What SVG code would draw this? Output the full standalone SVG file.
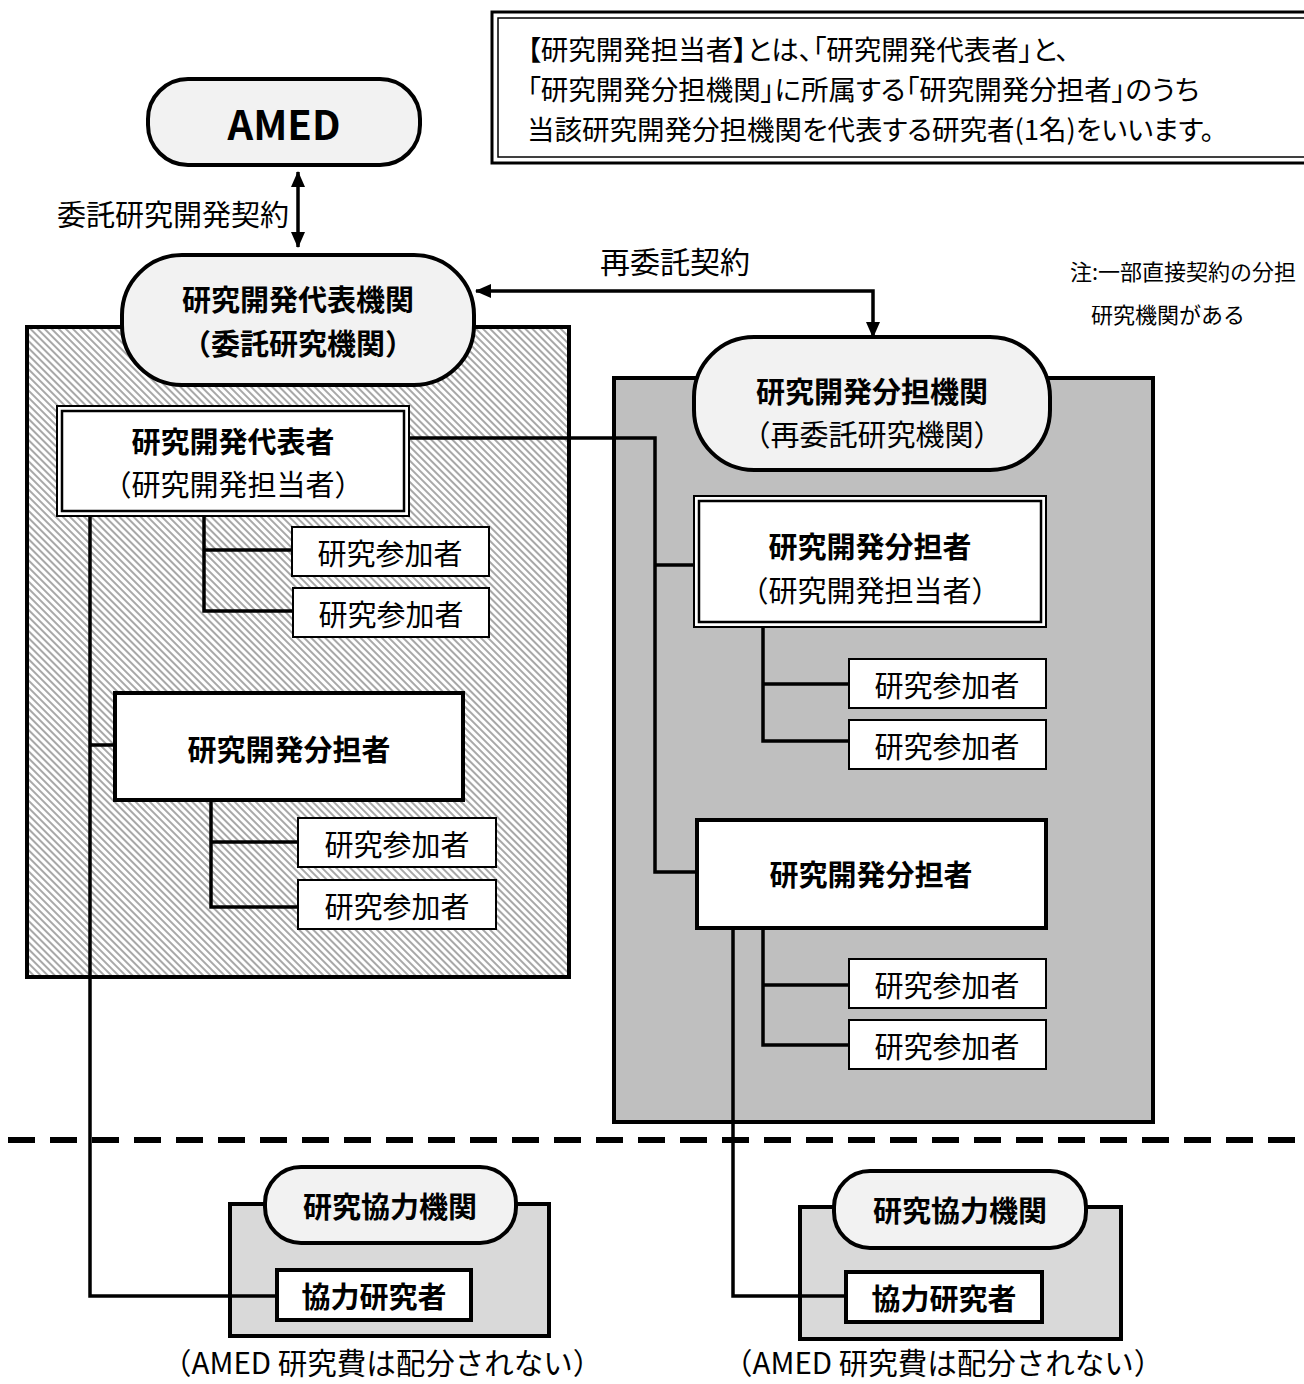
<svg xmlns="http://www.w3.org/2000/svg" width="1304" height="1384" viewBox="0 0 1304 1384">
<defs>
<style>
text{font-family:"Noto Sans CJK JP","Noto Sans",sans-serif;fill:#000;}
.t{font-size:29px;text-anchor:middle;dominant-baseline:central;}
.b{font-weight:700;}
.pill{fill:#f2f2f2;stroke:#000;stroke-width:4;}
.box{fill:#fff;stroke:#000;stroke-width:4;}
.pbox{fill:#fff;stroke:#000;stroke-width:2;}
.dbo{fill:#fff;stroke:#000;stroke-width:2;}
.dbi{fill:none;stroke:#000;stroke-width:2.5;}
.ln{fill:none;stroke:#000;stroke-width:3.5;}
.note{font-size:27.5px;font-feature-settings:"palt";dominant-baseline:central;}
.cap{font-size:29.5px;dominant-baseline:central;}
</style>
<pattern id="hatch" width="5" height="5" patternUnits="userSpaceOnUse" patternTransform="rotate(45)">
<rect width="5" height="5" fill="#ffffff"/>
<rect width="5" height="2" fill="#a8a8a8"/>
</pattern>
<marker id="ah" viewBox="0 0 16 14" refX="15" refY="7" markerWidth="16" markerHeight="14" markerUnits="userSpaceOnUse" orient="auto-start-reverse">
<path d="M0,0 L16,7 L0,14 Z" fill="#000"/>
</marker>
</defs>

<!-- top note -->
<g id="note-box">
<rect x="492" y="12" width="830" height="151" fill="#fff" stroke="#000" stroke-width="3"/>
<rect x="498" y="18" width="830" height="139" fill="none" stroke="#000" stroke-width="1.5"/>
<text class="note" x="527" y="48">【研究開発担当者】とは、「研究開発代表者」と、</text>
<text class="note" x="527" y="88">「研究開発分担機関」に所属する「研究開発分担者」のうち</text>
<text class="note" x="527" y="128">当該研究開発分担機関を代表する研究者(1名)をいいます。</text>
</g>

<!-- containers -->
<g id="left-org">
<rect x="27" y="327" width="542" height="650" fill="url(#hatch)" stroke="#000" stroke-width="4"/>
</g>
<g id="right-org">
<rect x="614" y="378" width="539" height="744" fill="#bfbfbf" stroke="#000" stroke-width="4"/>
</g>
<g id="coop-left">
<rect x="230" y="1204" width="319" height="132" fill="#d9d9d9" stroke="#000" stroke-width="4"/>
</g>
<g id="coop-right">
<rect x="800" y="1207" width="321" height="132" fill="#d9d9d9" stroke="#000" stroke-width="4"/>
</g>

<!-- dashed separator -->
<line x1="8" y1="1140" x2="1304" y2="1140" stroke="#000" stroke-width="6" stroke-dasharray="27 15"/>

<!-- connectors -->
<g id="connectors">
<line class="ln" x1="298" y1="172" x2="298" y2="247" marker-start="url(#ah)" marker-end="url(#ah)" stroke-width="3"/>
<path class="ln" d="M873,337 V291 H476" marker-start="url(#ah)" marker-end="url(#ah)" stroke-width="3"/>
<path class="ln" d="M409,438 H655 V872 H697"/>
<path class="ln" d="M655,565 H694"/>
<path class="ln" d="M204,516 V611 H293 M204,550 H292"/>
<path class="ln" d="M211,800 V907 H298 M211,842 H298"/>
<path class="ln" d="M90,516 V1296 H277 M90,745 H115" stroke-width="3"/>
<path class="ln" d="M763,627 V741 H849 M763,684 H849"/>
<path class="ln" d="M763,928 V1045 H849 M763,985 H849"/>
<path class="ln" d="M733,930 V1296 H846" stroke-width="3"/>
</g>

<!-- labels -->
<text class="t" x="289" y="213" style="text-anchor:end">委託研究開発契約</text>
<text class="t" x="675" y="260" style="font-size:30px">再委託契約</text>
<text x="1070" y="270" style="font-size:22px;dominant-baseline:central">注:一部直接契約の分担</text>
<text x="1168" y="313" style="font-size:22px;text-anchor:middle;dominant-baseline:central">研究機関がある</text>

<!-- nodes -->
<g id="amed">
<rect class="pill" x="148" y="79" width="272" height="86" rx="40"/>
<text class="t b" x="284" y="123" style="font-size:40px">AMED</text>
</g>
<g id="lead-institution">
<rect class="pill" x="122" y="255" width="352" height="130" rx="60"/>
<text class="t b" x="298" y="298">研究開発代表機関</text>
<text class="t b" x="298" y="342">（委託研究機関）</text>
</g>
<g id="sub-institution">
<rect class="pill" x="694" y="337" width="356" height="133" rx="60"/>
<text class="t b" x="872" y="390">研究開発分担機関</text>
<text class="t" x="872" y="433">（再委託研究機関）</text>
</g>

<g id="lead-researcher">
<rect class="dbo" x="57" y="406" width="352" height="110"/>
<rect class="dbi" x="62" y="411" width="342" height="100"/>
<text class="t b" x="233" y="440">研究開発代表者</text>
<text class="t" x="233" y="483">（研究開発担当者）</text>
</g>
<g id="lp1"><rect class="pbox" x="292" y="527" width="197" height="49"/><text class="t" x="390" y="552">研究参加者</text></g>
<g id="lp2"><rect class="pbox" x="293" y="588" width="196" height="49"/><text class="t" x="391" y="613">研究参加者</text></g>

<g id="left-sub-researcher">
<rect class="box" x="115" y="693" width="348" height="107"/>
<text class="t b" x="289" y="748">研究開発分担者</text>
</g>
<g id="lp3"><rect class="pbox" x="298" y="818" width="198" height="49"/><text class="t" x="397" y="843">研究参加者</text></g>
<g id="lp4"><rect class="pbox" x="298" y="880" width="198" height="49"/><text class="t" x="397" y="905">研究参加者</text></g>

<g id="right-sub-researcher-1">
<rect class="dbo" x="694" y="496" width="352" height="131"/>
<rect class="dbi" x="699" y="501" width="342" height="121"/>
<text class="t b" x="870" y="545">研究開発分担者</text>
<text class="t" x="870" y="589">（研究開発担当者）</text>
</g>
<g id="rp1"><rect class="pbox" x="849" y="659" width="197" height="49"/><text class="t" x="947" y="684">研究参加者</text></g>
<g id="rp2"><rect class="pbox" x="849" y="720" width="197" height="49"/><text class="t" x="947" y="745">研究参加者</text></g>

<g id="right-sub-researcher-2">
<rect class="box" x="697" y="820" width="349" height="108"/>
<text class="t b" x="871" y="873">研究開発分担者</text>
</g>
<g id="rp3"><rect class="pbox" x="849" y="959" width="197" height="49"/><text class="t" x="947" y="984">研究参加者</text></g>
<g id="rp4"><rect class="pbox" x="849" y="1020" width="197" height="49"/><text class="t" x="947" y="1045">研究参加者</text></g>

<g id="coop-inst-left">
<rect class="pill" x="265" y="1167" width="251" height="76" rx="36"/>
<text class="t b" x="390" y="1205">研究協力機関</text>
</g>
<g id="coop-researcher-left">
<rect class="box" x="277" y="1270" width="194" height="50"/>
<text class="t b" x="374" y="1295">協力研究者</text>
</g>
<text class="cap" x="162" y="1361">（AMED 研究費は配分されない）</text>

<g id="coop-inst-right">
<rect class="pill" x="834" y="1171" width="252" height="77" rx="36"/>
<text class="t b" x="960" y="1209">研究協力機関</text>
</g>
<g id="coop-researcher-right">
<rect class="box" x="846" y="1272" width="196" height="50"/>
<text class="t b" x="944" y="1297">協力研究者</text>
</g>
<text class="cap" x="723" y="1361">（AMED 研究費は配分されない）</text>
</svg>
